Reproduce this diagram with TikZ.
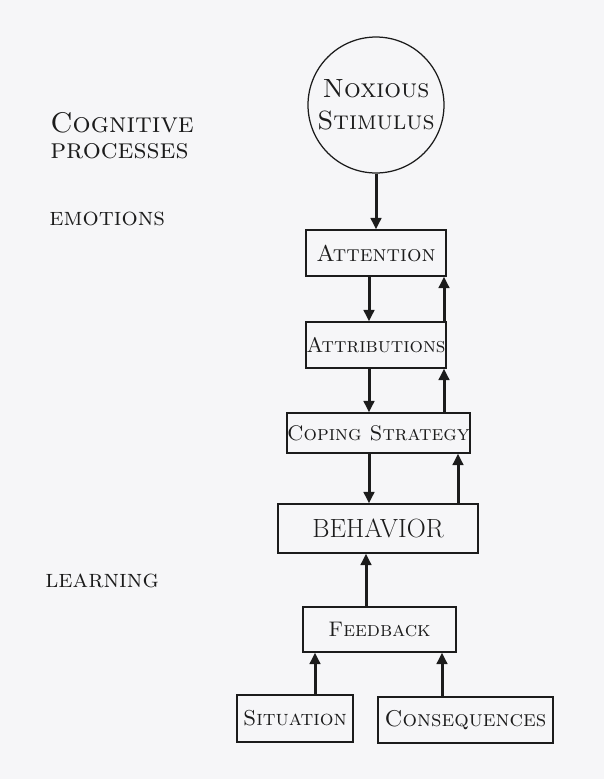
\documentclass[tikz,border=0pt]{standalone}
\usepackage{tikz}
\usetikzlibrary{arrows.meta}
\definecolor{paper}{RGB}{246,246,248}
\definecolor{ink}{RGB}{28,28,28}

\begin{document}
\begin{tikzpicture}[x=0.02cm,y=-0.02cm,
  box/.style={draw=ink,line width=0.25mm,inner sep=0pt,text=ink,
    font=\fontsize{12}{14}\selectfont\scshape},
  arr/.style={draw=ink,line width=0.6mm,-{Triangle[length=2.3mm,width=2.1mm]}},
  side/.style={anchor=base west,inner sep=0pt,text=ink,font=\fontsize{14.5}{17}\selectfont\scshape}]
\fill[paper] (0,0) rectangle (604,779);
\useasboundingbox (0,0) rectangle (604,779);

% left column
\node[side,font=\fontsize{16.2}{19}\selectfont\scshape] (cog) at (50,132) {Cognitive};
\node[side,font=\fontsize{16.2}{19}\selectfont\scshape] (proc) at (50,158) {processes};
\node[side] (emo) at (49,225) {emotions};
\node[side] (learn) at (45,587) {learning};

% the chain
\node[draw=ink,line width=0.25mm,circle,minimum size=2.72cm,inner sep=0pt,text=ink,
  align=center,font=\fontsize{15}{18}\selectfont\scshape] (stim) at (376,105) {Noxious\\Stimulus};
\node[box,minimum width=2.8cm,minimum height=0.92cm,font=\fontsize{13}{15}\selectfont\scshape] (attn) at (376,253) {Attention};
\node[box,minimum width=2.8cm,minimum height=0.92cm] (attr) at (376,345) {Attributions};
\node[box,minimum width=3.66cm,minimum height=0.8cm] (cope) at (378.5,433) {Coping Strategy};
\node[box,minimum width=4cm,minimum height=0.98cm,font=\fontsize{15}{17}\selectfont] (beh) at (378,528.5) {BEHAVIOR};
\node[box,minimum width=3.06cm,minimum height=0.9cm] (fb) at (379.5,629.5) {Feedback};
\node[box,minimum width=2.32cm,minimum height=0.94cm,font=\fontsize{12.3}{14}\selectfont\scshape] (sit) at (295,718.5) {Situation};
\node[box,minimum width=3.5cm,minimum height=0.92cm,font=\fontsize{13}{15}\selectfont\scshape] (cons) at (465.5,720) {Consequences};

% where the arrows run
\coordinate (dn) at (369,0);
\coordinate (up) at (444,0);
\coordinate (up2) at (458,0);
\coordinate (fbx) at (366,0);
\coordinate (sitx) at (315,0);
\coordinate (consx) at (442,0);

\draw[arr] (stim) -- (attn);
\draw[arr] (attn.south -| dn) -- (attr.north -| dn);
\draw[arr] (attr.north -| up) -- (attn.south -| up);
\draw[arr] (attr.south -| dn) -- (cope.north -| dn);
\draw[arr] (cope.north -| up) -- (attr.south -| up);
\draw[arr] (cope.south -| dn) -- (beh.north -| dn);
\draw[arr] (beh.north -| up2) -- (cope.south -| up2);
\draw[arr] (fb.north -| fbx) -- (beh.south -| fbx);
\draw[arr] (sit.north -| sitx) -- (fb.south -| sitx);
\draw[arr] (cons.north -| consx) -- (fb.south -| consx);
\end{tikzpicture}
\end{document}
